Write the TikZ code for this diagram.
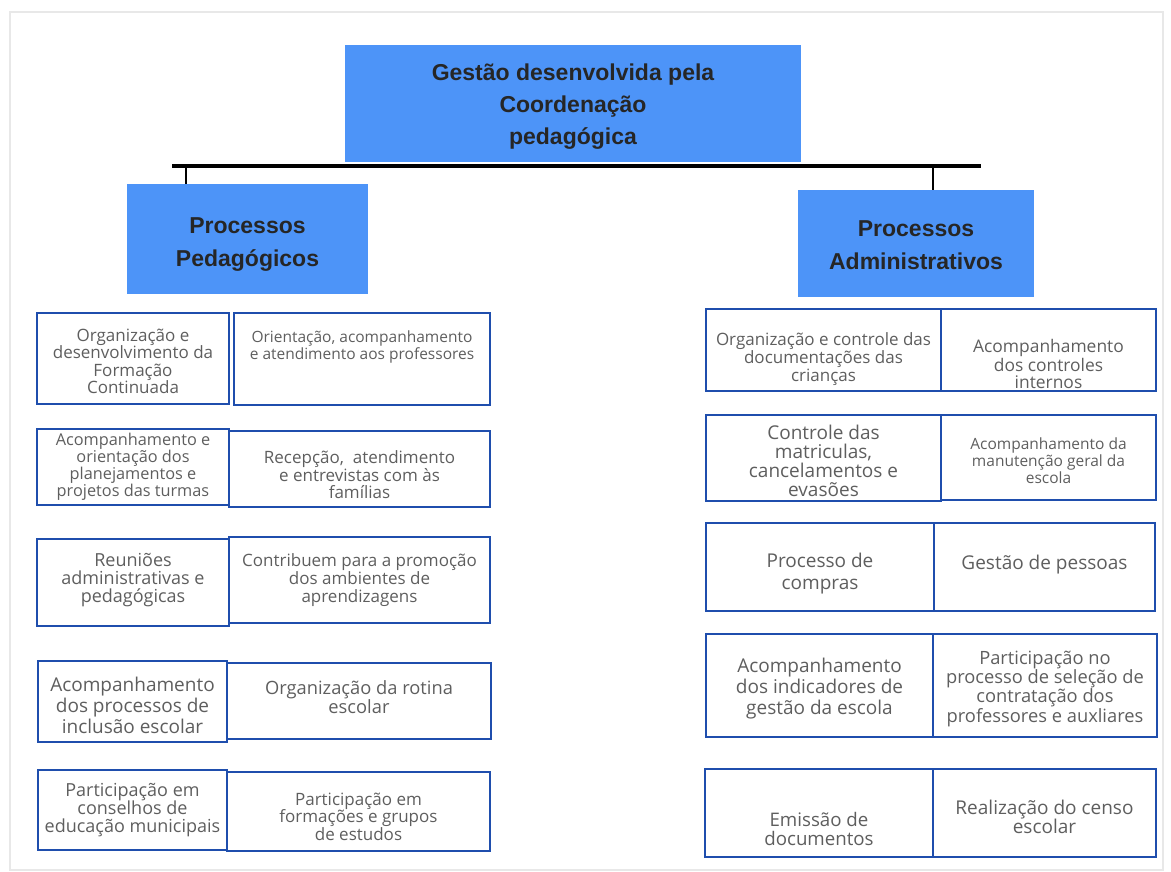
\documentclass[tikz,border=0pt]{standalone}
\usepackage{fontspec}
\setmainfont{Open Sans}
\newfontfamily\headfont{Liberation Sans}
\usetikzlibrary{fit}

\definecolor{headblue}{HTML}{4D94F8}
\definecolor{cellblue}{HTML}{1F4EAD}
\definecolor{txtgray}{HTML}{5E5E5E}

\tikzset{
  head/.style={fill=headblue, draw=none, inner sep=0pt, align=center,
    font=\headfont\bfseries\fontsize{23}{32}\selectfont, text=black!85},
  cell/.style={draw=cellblue, line width=2.4pt, inner sep=0pt},
  fs/.style 2 args={font=\fontsize{#1}{#2}\selectfont},
  celltext/.style={align=center, text=txtgray, inner sep=0pt, fs={17}{17.5}},
  bar/.style={line width=4pt, black},
  tick/.style={line width=1.8pt, black}
}

% box from (x1,y1) to (x2,y2), text moved down by dy, text options
\newcommand{\cellbox}[8]{%
  \node[cell, fit={(#2,#3) (#4,#5)}] (#1) {};
  \node[celltext, #7] (#1t) at ([yshift=-#6pt]#1.center) {#8};
}

\begin{document}
\begin{tikzpicture}[x=1pt,y=-1pt]
  \useasboundingbox (0,0) rectangle (1171,872);
  \draw[gray!18, line width=1.2pt] (10,12) rectangle (1163,870);

  % top and branches
  \node[head, fit={(345,45) (801,162)}] (top) {};
  \node[head, fill=none] at ([yshift=-3pt]top.center) {Gest\~ao desenvolvida pela\\Coordena\c{c}\~ao\\pedag\'ogica};
  \node[head, fit={(127,184) (368,294)}] (ped) {};
  \node[head, fill=none, font=\headfont\bfseries\fontsize{23}{33}\selectfont]
    at ([yshift=-6pt]ped.center) {Processos\\Pedag\'ogicos};
  \node[head, fit={(798,190) (1034,297)}] (adm) {};
  \node[head, fill=none, font=\headfont\bfseries\fontsize{23}{33}\selectfont]
    at ([yshift=-2pt]adm.center) {Processos\\Administrativos};

  \coordinate (bl) at (172,166);
  \coordinate (br) at (981,166);
  \draw[bar] (bl) -- (br);
  \draw[tick] (ped.north -| 186,166) -- (186,166);
  \draw[tick] (adm.north -| 933,166) -- (933,166);

  % pedagogical column
  \cellbox{pa1}{37}{313}{229}{404}{3}{}{Organiza\c{c}\~ao e\\desenvolvimento da\\Forma\c{c}\~ao\\Continuada}
  \cellbox{pb1}{234}{313}{490}{405}{-12}{fs={15.5}{17}}{Orienta\c{c}\~ao, acompanhamento\\e atendimento aos professores}
  \cellbox{pa2}{37}{429}{229}{505}{0}{fs={16.3}{17}}{Acompanhamento e\\orienta\c{c}\~ao dos\\planejamentos e\\projetos das turmas}
  \cellbox{pb2}{229}{431}{490}{507}{6}{}{Recep\c{c}\~ao,\ \ atendimento\\e entrevistas com \`as\\fam\'ilias}
  \cellbox{pa3}{37}{539}{229}{626}{-2}{fs={18}{18}}{Reuni\~oes\\administrativas e\\pedag\'ogicas}
  \cellbox{pb3}{229}{537}{490}{623}{0}{fs={17}{18}}{Contribuem para a promo\c{c}\~ao\\dos ambientes de\\aprendizagens}
  \cellbox{pa4}{38}{661}{227}{742}{4}{fs={19}{21}}{Acompanhamento\\dos processos de\\inclus\~ao escolar}
  \cellbox{pb4}{227}{663}{491}{739}{-4}{fs={18.3}{19}}{Organiza\c{c}\~ao da rotina\\escolar}
  \cellbox{pa5}{38}{770}{227}{850}{0}{fs={18}{18}}{Participa\c{c}\~ao em\\conselhos de\\educa\c{c}\~ao municipais}
  \cellbox{pb5}{227}{772}{490}{851}{5}{}{Participa\c{c}\~ao em\\forma\c{c}\~oes e grupos\\de estudos}

  % administrative column
  \cellbox{aa1}{706}{309}{941}{391}{9}{fs={17}{18}}{Organiza\c{c}\~ao e controle das\\documenta\c{c}\~oes das\\crian\c{c}as}
  \cellbox{ab1}{941}{309}{1156}{391}{14}{fs={17.4}{17}}{Acompanhamento\\dos controles\\internos}
  \cellbox{aa2}{706}{415}{941}{501}{3}{fs={19}{19}}{Controle das\\matriculas,\\cancelamentos e\\evas\~oes}
  \cellbox{ab2}{941}{415}{1156}{500}{3}{fs={15.5}{17}}{Acompanhamento da\\manuten\c{c}\~ao geral da\\escola}
  \cellbox{aa3}{706}{523}{934}{611}{7}{fs={19}{22}}{Processo de\\compras}
  \cellbox{ab3}{934}{523}{1155}{611}{-2}{fs={19}{19}}{Gest\~ao de pessoas}
  \cellbox{aa4}{706}{634}{933}{737}{3}{fs={19}{21}}{Acompanhamento\\dos indicadores de\\gest\~ao da escola}
  \cellbox{ab4}{933}{634}{1157}{737}{3}{fs={18.3}{18}}{Participa\c{c}\~ao no\\processo de sele\c{c}\~ao de\\contrata\c{c}\~ao dos\\professores e auxliares}
  \cellbox{aa5}{705}{769}{933}{857}{16}{fs={18.7}{19}}{Emiss\~ao de\\documentos}
  \cellbox{ab5}{933}{769}{1156}{857}{4}{fs={19}{19}}{Realiza\c{c}\~ao do censo\\escolar}
\end{tikzpicture}
\end{document}
